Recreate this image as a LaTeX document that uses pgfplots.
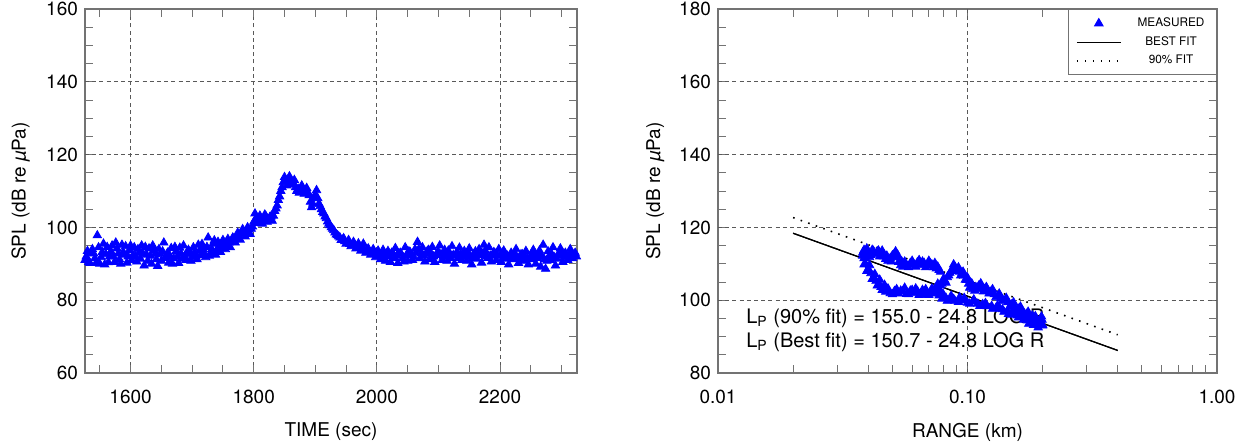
\documentclass[border=0pt]{standalone}
\usepackage{fontspec}
\setmainfont{TeX Gyre Heros}
\usepackage{pgfplots}
\pgfplotsset{compat=1.18}
\definecolor{meas}{RGB}{0,0,255}
\definecolor{axgray}{gray}{0.45}
\definecolor{gridgray}{gray}{0.35}
\pgfplotsset{
  common/.style={
    scale only axis, height=182pt,
    axis line style={axgray, line width=0.6pt},
    tick align=inside, tick style={axgray, line width=0.5pt},
    major tick length=4pt, minor tick length=4pt,
    major grid style={gridgray, dash pattern=on 2pt off 1.6pt, line width=0.4pt},
    /pgf/number format/assume math mode=true,
    /pgf/number format/set thousands separator={},
    tick label style={font=\fontsize{9.5}{11}\selectfont},
    label style={font=\fontsize{9.5}{11}\selectfont},
    xticklabel style={yshift=-5pt},
    xlabel style={at={(axis description cs:0.5,0)},anchor=center,yshift=-29.5pt},
    ylabel style={at={(axis description cs:-0.131,0.5)},anchor=center},
    minor y tick num=3,
  },
  meas/.style={only marks, mark=triangle*, mark size=2.4pt, color=meas},
}
\begin{document}
\begin{tikzpicture}
\useasboundingbox (0,0) rectangle (624pt,223.5pt);
% ---------------- left panel ----------------
\begin{axis}[common,
  at={(42.5pt,37pt)}, anchor=south west, width=246pt,
  xmin=1526, xmax=2325, ymin=60, ymax=160,
  xtick={1600,1800,2000,2200},
  minor xtick={1550,1650,1700,1750,1850,1900,1950,2050,2100,2150,2250,2300},
  xmajorgrids=true,
  ytick={60,80,100,120,140,160},
  yticklabels={60,80,100,120,140,\raisebox{-5pt}{160}},
  extra y ticks={80,100,120,140}, extra y tick labels={},
  extra y tick style={ymajorgrids=true, major tick length=0pt},
  xlabel={TIME (sec)},
  ylabel={SPL (dB re {\itshape µ}Pa)},
  clip=true,
]
\addplot[meas] table {
1526 91.0
1530 93.5
1534 90.2
1538 94.0
1542 91.5
1546 97.8
1550 90.0
1554 93.2
1558 89.8
1562 94.6
1566 92.0
1570 95.0
1574 90.5
1578 94.2
1582 91.2
1586 95.2
1590 92.5
1594 90.3
1598 93.8
1602 91.0
1606 94.5
1610 90.6
1614 93.0
1618 95.0
1622 89.5
1626 92.5
1630 94.2
1634 90.0
1638 93.6
1642 91.2
1646 94.0
1650 90.8
1654 95.8
1658 92.0
1662 90.3
1666 94.3
1670 91.5
1674 93.5
1678 90.2
1682 92.8
1686 95.0
1690 91.0
1694 93.8
1698 90.8
1702 94.5
1706 92.0
1710 95.2
1714 92.3
1718 94.0
1722 91.8
1726 97.2
1730 93.0
1734 95.5
1738 92.5
1742 96.0
1746 93.2
1750 96.5
1754 94.0
1758 96.8
1762 94.5
1766 97.2
1770 95.8
1774 98.5
1778 96.6
1782 99.5
1786 97.5
1790 100.0
1794 98.2
1798 100.2
1802 103.8
1806 101.2
1810 103.2
1814 101.0
1818 103.5
1822 101.5
1826 102.8
1830 101.8
1834 104.5
1838 106.0
1842 108.5
1846 111.0
1850 113.8
1854 111.5
1858 114.0
1862 111.8
1866 113.0
1870 110.0
1874 109.5
1878 111.5
1882 109.2
1886 110.8
1890 108.8
1894 105.5
1898 108.0
1902 110.2
1906 106.5
1910 105.0
1914 103.8
1918 102.5
1922 101.0
1926 100.0
1930 99.2
1934 98.0
1938 97.5
1942 96.5
1946 97.0
1950 95.5
1954 96.5
1958 94.8
1962 96.0
1966 94.2
1970 95.6
1974 93.6
1978 95.5
1982 93.0
1986 94.2
1990 92.5
1994 94.0
1998 91.8
2002 93.6
2006 91.2
2010 93.8
2014 90.8
2018 93.5
2022 90.5
2026 92.8
2030 94.3
2034 90.2
2038 93.0
2042 91.5
2046 94.5
2050 90.8
2054 93.2
2058 91.0
2062 94.0
2066 96.0
2070 91.5
2074 94.5
2078 90.6
2082 93.5
2086 91.2
2090 94.6
2094 90.5
2098 93.0
2102 95.0
2106 91.0
2110 93.8
2114 90.8
2118 92.5
2122 94.8
2126 90.0
2130 93.2
2134 94.4
2138 91.0
2142 93.5
2146 90.8
2150 94.2
2154 89.8
2158 92.8
2162 91.4
2166 94.0
2170 90.3
2174 95.2
2178 92.0
2182 94.5
2186 90.6
2190 93.2
2194 91.0
2198 94.0
2202 90.5
2206 93.6
2210 91.8
2214 89.8
2218 93.0
2222 91.2
2226 94.0
2230 90.2
2234 92.6
2238 90.8
2242 93.5
2246 89.8
2250 92.3
2254 93.8
2258 90.0
2262 92.5
2266 89.2
2270 95.2
2274 88.6
2278 93.4
2282 91.0
2286 94.5
2290 89.5
2294 92.5
2298 94.2
2302 90.5
2306 93.0
2310 91.0
2314 94.0
2318 91.5
2322 93.0
};
\addplot[meas] table {
1528 92.0
1532 90.5
1536 93.0
1540 92.8
1544 90.2
1548 94.5
1552 91.8
1556 95.5
1560 92.6
1564 90.4
1568 93.4
1572 92.0
1576 95.8
1580 92.8
1584 90.0
1588 93.2
1592 94.8
1596 92.0
1600 95.0
1604 92.4
1608 92.0
1612 94.0
1616 91.4
1620 92.8
1624 94.6
1628 90.8
1632 92.2
1636 95.0
1640 92.6
1644 89.4
1648 92.6
1652 93.4
1656 91.6
1660 93.0
1664 92.2
1668 90.0
1672 94.6
1676 92.0
1680 94.4
1684 91.4
1688 92.0
1692 93.2
1696 92.6
1700 91.8
1704 93.2
1708 91.2
1712 93.6
1716 95.4
1720 92.8
1724 94.6
1728 92.2
1732 94.0
1736 96.4
1740 93.8
1744 95.0
1748 94.2
1752 95.4
1756 95.0
1760 95.8
1764 96.0
1768 96.6
1772 97.2
1776 97.6
1780 98.4
1784 98.6
1788 99.0
1792 99.4
1796 99.6
1800 101.5
1804 102.5
1808 102.4
1812 102.0
1816 102.4
1820 103.0
1824 102.0
1828 103.0
1832 103.2
1836 105.2
1840 107.5
1844 110.0
1848 112.4
1852 112.6
1856 113.0
1860 112.6
1864 112.2
1868 111.0
1872 110.6
1876 110.2
1880 110.6
1884 110.2
1888 109.6
1892 107.0
1896 106.5
1900 109.0
1904 108.0
1908 105.8
1912 104.2
1916 103.0
1920 101.6
1924 100.6
1928 99.6
1932 98.6
1936 97.8
1940 97.2
1944 96.6
1948 96.2
1952 95.8
1956 95.4
1960 95.0
1964 95.2
1968 94.6
1972 94.4
1976 94.2
1980 93.8
1984 93.6
1988 93.2
1992 93.0
1996 92.8
2000 92.6
2004 92.4
2008 92.0
2012 92.6
2016 92.2
2020 92.0
2024 93.0
2028 91.6
2032 92.2
2036 92.8
2040 92.6
2044 90.6
2048 92.4
2052 93.4
2056 92.4
2060 91.8
2064 93.0
2068 94.0
2072 92.8
2076 92.2
2080 92.6
2084 93.8
2088 92.8
2092 92.0
2096 92.4
2100 93.2
2104 92.6
2108 92.0
2112 92.4
2116 93.6
2120 91.6
2124 92.4
2128 92.4
2132 91.6
2136 92.6
2140 92.0
2144 92.4
2148 93.0
2152 92.0
2156 91.6
2160 93.4
2164 92.4
2168 92.4
2172 92.8
2176 93.6
2180 91.6
2184 92.2
2188 92.4
2192 92.8
2196 92.4
2200 92.2
2204 91.4
2208 92.8
2212 92.2
2216 91.6
2220 92.2
2224 92.8
2228 91.6
2232 91.6
2236 92.6
2240 92.0
2244 91.4
2248 91.2
2252 91.4
2256 92.0
2260 91.6
2264 93.6
2268 92.0
2272 91.2
2276 90.8
2280 92.2
2284 92.6
2288 91.8
2292 91.4
2296 92.4
2300 93.0
2304 91.8
2308 92.2
2312 92.4
2316 92.8
2320 92.2
2324 92.0
};
\end{axis}
% ---------------- right panel ----------------
\begin{axis}[common,
  at={(359pt,37pt)}, anchor=south west, width=249.5pt,
  xmode=log, xmin=0.01, xmax=1, ymin=80, ymax=180,
  xtick={0.01,0.1,1}, xticklabels={0.01,0.10,1.00},
  minor xtick={0.02,0.03,0.04,0.05,0.06,0.07,0.08,0.09,0.2,0.3,0.4,0.5,0.6,0.7,0.8,0.9},
  extra x ticks={0.1}, extra x tick labels={},
  extra x tick style={xmajorgrids=true, major tick length=0pt},
  ytick={80,100,120,140,160,180},
  yticklabels={80,100,120,140,160,\raisebox{-3.5pt}{180}},
  extra y ticks={100,120,140,160}, extra y tick labels={},
  extra y tick style={ymajorgrids=true, major tick length=0pt},
  xlabel={RANGE (km)},
  ylabel={SPL (dB re {\itshape µ}Pa)},
  ylabel style={at={(axis description cs:-0.126,0.5)}},
  legend style={at={(1,1)}, anchor=north east, draw=axgray, line width=0.5pt,
    font=\fontsize{5.9}{6.6}\selectfont, inner xsep=4pt, inner ysep=2pt,
    row sep=-0.5pt, /tikz/every odd column/.style={column sep=6pt}},
  legend cell align=center,
  legend image code/.code={\draw[mark repeat=2,mark phase=2,#1] plot coordinates {(0pt,0pt) (11pt,0pt) (22pt,0pt)};},
]
\node[anchor=west, font=\fontsize{10}{12}\selectfont, inner sep=0pt] at (rel axis cs:0.056,0.151) {L\textsubscript{P} (90\% fit) = 155.0 - 24.8 LOG R};
\node[anchor=west, font=\fontsize{10}{12}\selectfont, inner sep=0pt] at (rel axis cs:0.056,0.085) {L\textsubscript{P} (Best fit) = 150.7 - 24.8 LOG R};
\addplot[meas] table {
0.200 93.0
0.196 94.5
0.192 92.5
0.188 95.0
0.184 93.2
0.180 94.6
0.176 93.5
0.172 95.5
0.168 94.6
0.164 95.8
0.160 95.2
0.155 96.3
0.150 96.0
0.145 97.0
0.140 96.8
0.135 97.6
0.130 97.8
0.125 98.4
0.120 98.3
0.115 98.9
0.110 99.0
0.105 99.6
0.100 99.3
0.096 99.9
0.092 99.5
0.088 100.3
0.085 100.0
0.082 100.6
0.079 100.4
0.077 101.3
0.075 102.0
0.073 102.6
0.071 102.0
0.069 101.5
0.067 102.3
0.065 101.8
0.063 102.5
0.061 101.9
0.059 102.6
0.057 101.7
0.055 102.4
0.053 101.8
0.051 102.5
0.049 101.9
0.047 102.3
0.046 103.0
0.045 103.6
0.044 104.5
0.043 105.3
0.042 106.2
0.041 107.4
0.040 108.6
0.039 110.0
0.0385 111.5
0.038 113.0
0.0385 113.8
0.039 112.8
0.040 113.2
0.041 112.4
0.042 113.5
0.043 112.6
0.044 113.6
0.045 112.5
0.046 112.0
0.047 111.3
0.048 110.8
0.049 111.5
0.050 112.3
0.051 112.8
0.052 111.8
0.053 110.5
0.054 109.6
0.055 109.2
0.057 109.6
0.059 110.2
0.061 109.8
0.063 110.4
0.065 109.6
0.067 110.2
0.069 109.5
0.071 110.0
0.073 109.0
0.075 108.7
0.077 108.3
0.078 107.8
0.076 104.5
0.075 103.5
0.077 103.0
0.079 104.5
0.081 105.5
0.083 106.3
0.085 107.5
0.087 108.6
0.089 109.2
0.091 108.5
0.093 107.8
0.095 107.5
0.097 106.8
0.099 105.5
0.101 104.5
0.103 103.8
0.105 103.0
0.108 103.6
0.111 104.0
0.114 103.5
0.117 103.0
0.120 102.5
0.124 102.3
0.128 101.6
0.132 101.0
0.136 100.6
0.140 99.9
0.145 99.4
0.150 98.8
0.155 98.0
0.160 97.6
0.166 96.8
0.172 96.2
0.178 95.5
0.184 94.9
0.190 94.2
0.196 93.6
0.200 93.2
};
\addlegendentry{MEASURED}
\addplot[black, line width=0.6pt] coordinates {(0.02,118.4) (0.4,86.2)};
\addlegendentry{BEST FIT}
\addplot[black, line width=0.8pt, dash pattern=on 0.8pt off 3.2pt] coordinates {(0.02,122.7) (0.4,90.5)};
\addlegendentry{90\% FIT}
\addplot[meas, forget plot] table {
0.198 95.5
0.190 93.6
0.182 95.8
0.174 94.4
0.166 96.5
0.158 95.8
0.152 97.2
0.146 96.2
0.138 97.5
0.132 98.6
0.126 97.6
0.118 99.2
0.112 98.4
0.106 100.2
0.102 99.0
0.097 100.6
0.093 100.8
0.089 99.8
0.086 101.2
0.083 99.8
0.080 101.6
0.078 102.4
0.076 103.4
0.074 101.8
0.072 103.2
0.070 101.4
0.068 103.0
0.066 102.8
0.064 101.4
0.062 103.2
0.060 102.8
0.058 101.6
0.056 103.4
0.054 102.6
0.052 103.0
0.050 101.6
0.048 103.2
0.0465 104.2
0.0455 102.8
0.0445 105.6
0.0435 104.0
0.0425 107.2
0.0415 105.8
0.0405 109.6
0.0395 108.0
0.039 111.6
0.0385 109.8
0.038 112.2
0.0395 114.2
0.0405 111.8
0.0415 113.8
0.0435 113.4
0.0445 112.0
0.0455 113.6
0.0475 112.2
0.0495 110.6
0.0505 111.8
0.0515 113.4
0.0525 112.4
0.0545 110.6
0.056 110.6
0.058 109.0
0.060 110.8
0.062 109.2
0.064 111.0
0.066 110.6
0.068 109.0
0.070 110.8
0.072 109.8
0.074 110.2
0.076 109.2
0.078 104.0
0.080 105.8
0.082 104.8
0.084 106.8
0.086 108.0
0.088 109.8
0.090 108.0
0.092 109.0
0.094 106.8
0.096 107.8
0.098 105.6
0.100 106.2
0.102 103.4
0.104 104.6
0.107 102.6
0.110 103.0
0.113 104.6
0.116 102.4
0.119 103.6
0.122 101.8
0.126 103.0
0.130 100.8
0.134 101.8
0.138 99.8
0.143 100.6
0.148 98.4
0.153 99.4
0.158 97.2
0.163 98.2
0.169 96.2
0.175 96.8
0.181 94.8
0.187 95.6
0.193 93.4
0.199 94.6
};
\addplot[black, line width=0.6pt, forget plot] coordinates {(0.02,118.4) (0.4,86.2)};
\end{axis}
\end{tikzpicture}
\end{document}
